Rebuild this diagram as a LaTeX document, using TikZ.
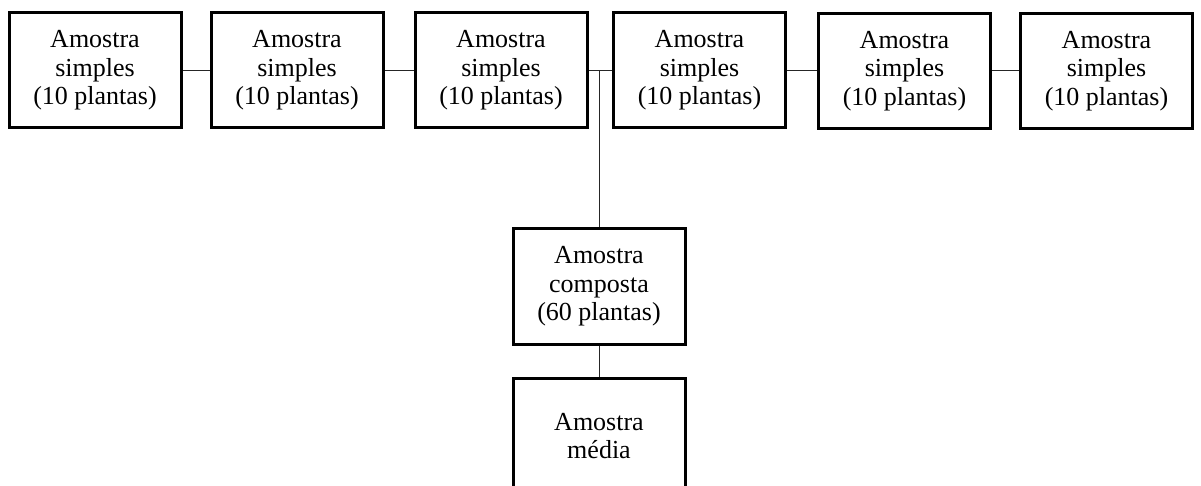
\documentclass[tikz,border=0pt]{standalone}
\usepackage{fontspec}
\setmainfont{Liberation Serif}
\begin{document}
\begin{tikzpicture}[x=1pt,y=-1pt,
  box/.style={draw=black, line width=3pt, fill=white, minimum width=172pt, minimum height=115pt,
    inner sep=0pt, align=center, font=\fontsize{26}{28.5}\selectfont},
  link/.style={draw=black!85, line width=1pt}]
\useasboundingbox (0,0) rectangle (1201,486);
\begin{scope}
\clip (0,0) rectangle (1201,486);
\node[box] (s1) at (95,70.5) {Amostra\\simples\\(10 plantas)};
\node[box] (s2) at (297,70.5) {Amostra\\simples\\(10 plantas)};
\node[box] (s3) at (501,70.5) {Amostra\\simples\\(10 plantas)};
\node[box] (s4) at (699.5,70.5) {Amostra\\simples\\(10 plantas)};
\node[box] (s5) at (904.5,71) {Amostra\\simples\\(10 plantas)};
\node[box] (s6) at (1106.5,71) {Amostra\\simples\\(10 plantas)};
\node[box] (c) at (599,286.5) {Amostra\\composta\\(60 plantas)};
\node[box] (m) at (599,436) {Amostra\\média};
\coordinate (j) at (599,70.5);
\draw[link] (s1.east) -- (s1.east -| s2.west);
\draw[link] (s2.east) -- (s2.east -| s3.west);
\draw[link] (s3.east) -- (s3.east -| s4.west);
\draw[link] (s4.east) -- (s4.east -| s5.west);
\draw[link] (s5.east) -- (s5.east -| s6.west);
\draw[link] (j) -- (c.north);
\draw[link] (c.south) -- (m.north);
\end{scope}
\end{tikzpicture}
\end{document}
